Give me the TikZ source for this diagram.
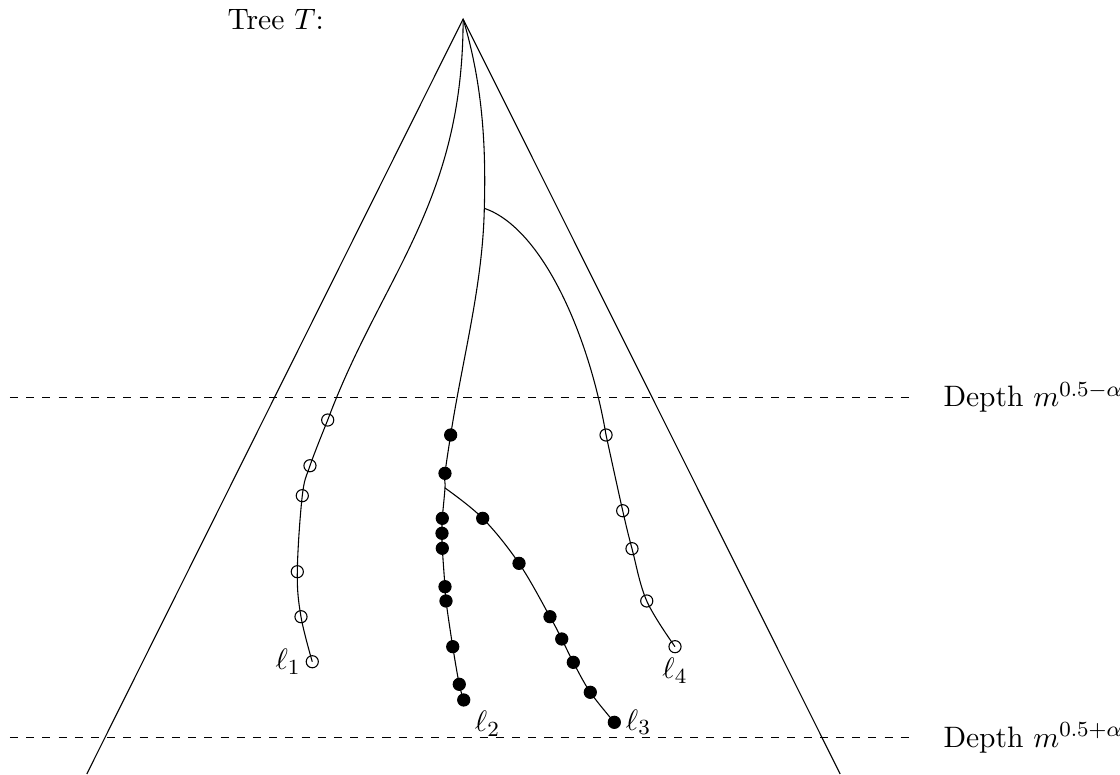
\documentclass[tikz,border=0pt,11pt]{standalone}
\usepackage{amsmath}
\usepackage{amssymb}
\usepackage{tikz}
\usetikzlibrary{positioning}

\begin{document}
\begin{tikzpicture}[
  opendot/.style={draw, circle, inner sep=0pt, minimum size=4.5pt},
  fulldot/.style={draw, fill, circle, inner sep=0pt, minimum size=4.5pt},
  level/.style={dashed},
  branch/.style={smooth, tension=0.6},
  label distance=-2pt]
  \useasboundingbox (0,0) rectangle (14.583,10.078);
  \coordinate (root) at (6.03,9.83);
  \coordinate (lfoot) at (1.13,0);
  \coordinate (rfoot) at (10.94,0);
  \coordinate (fork1) at (6.306,7.366);
  \coordinate (fork2) at (5.794,3.724);
  \node[right] (title) at (2.83,9.82) {Tree $T$:};
  % depth levels
  \coordinate (up1) at (0.13,4.905);
  \coordinate (up2) at (11.85,4.905);
  \coordinate (low1) at (0.13,0.473);
  \coordinate (low2) at (11.85,0.473);
  \draw[level] (up1) -- (up2);
  \draw[level] (low1) -- (low2);
  \node[right=0.3cm of up2] (uplab) {Depth $m^{0.5-\alpha}$};
  \node[right=0.3cm of low2] (lowlab) {Depth $m^{0.5+\alpha}$};
  \draw (lfoot) -- (root) -- (rfoot);
  % leaf l1
  \node[opendot] (a1) at (4.267,4.609) {};
  \node[opendot] (a2) at (4.036,4.014) {};
  \node[opendot] (a3) at (3.936,3.624) {};
  \node[opendot] (a4) at (3.871,2.634) {};
  \node[opendot] (a5) at (3.919,2.048) {};
  \node[opendot, label=left:$\ell_1$] (a6) at (4.066,1.462) {};
  % leaf l2
  \node[fulldot] (b1) at (5.868,4.414) {};
  \node[fulldot] (b2) at (5.794,3.915) {};
  \node[fulldot] (b3) at (5.759,3.329) {};
  \node[fulldot] (b4) at (5.755,3.134) {};
  \node[fulldot] (b5) at (5.759,2.939) {};
  \node[fulldot] (b6) at (5.794,2.439) {};
  \node[fulldot] (b7) at (5.807,2.253) {};
  \node[fulldot] (b8) at (5.895,1.658) {};
  \node[fulldot] (b9) at (5.980,1.168) {};
  \node[fulldot, label=below right:$\ell_2$] (b10) at (6.038,0.964) {};
  % leaf l3
  \node[fulldot] (c1) at (6.285,3.329) {};
  \node[fulldot] (c2) at (6.758,2.743) {};
  \node[fulldot] (c3) at (7.161,2.048) {};
  \node[fulldot] (c4) at (7.314,1.758) {};
  \node[fulldot] (c5) at (7.465,1.454) {};
  \node[fulldot] (c6) at (7.686,1.064) {};
  \node[fulldot, label=right:$\ell_3$] (c7) at (7.999,0.673) {};
  % leaf l4
  \node[opendot] (d1) at (7.891,4.414) {};
  \node[opendot] (d2) at (8.108,3.428) {};
  \node[opendot] (d3) at (8.229,2.934) {};
  \node[opendot] (d4) at (8.421,2.253) {};
  \node[opendot, label=below:$\ell_4$] (d5) at (8.789,1.658) {};
  % paths
  \draw (root) .. controls (6.03,7.43) and (4.967,6.483) .. (a1.center);
  \draw plot[branch] coordinates {(a1.center) (a2.center) (a3.center)
    (a4.center) (a5.center) (a6.center)};
  \draw (root) .. controls (6.28,9.0) and (6.33,8.2) .. (fork1)
    .. controls (6.286,6.366) and (6.023,5.414) .. (b1.center);
  \draw plot[branch] coordinates {(b1.center) (b2.center) (fork2) (b3.center)
    (b4.center) (b5.center) (b6.center) (b7.center) (b8.center) (b9.center)
    (b10.center)};
  \draw plot[branch] coordinates {(fork2) (c1.center) (c2.center) (c3.center)
    (c4.center) (c5.center) (c6.center) (c7.center)};
  \draw (fork1) .. controls (7.062,7.106) and (7.67,5.714) .. (d1.center);
  \draw plot[branch] coordinates {(d1.center) (d2.center) (d3.center)
    (d4.center) (d5.center)};
\end{tikzpicture}
\end{document}
